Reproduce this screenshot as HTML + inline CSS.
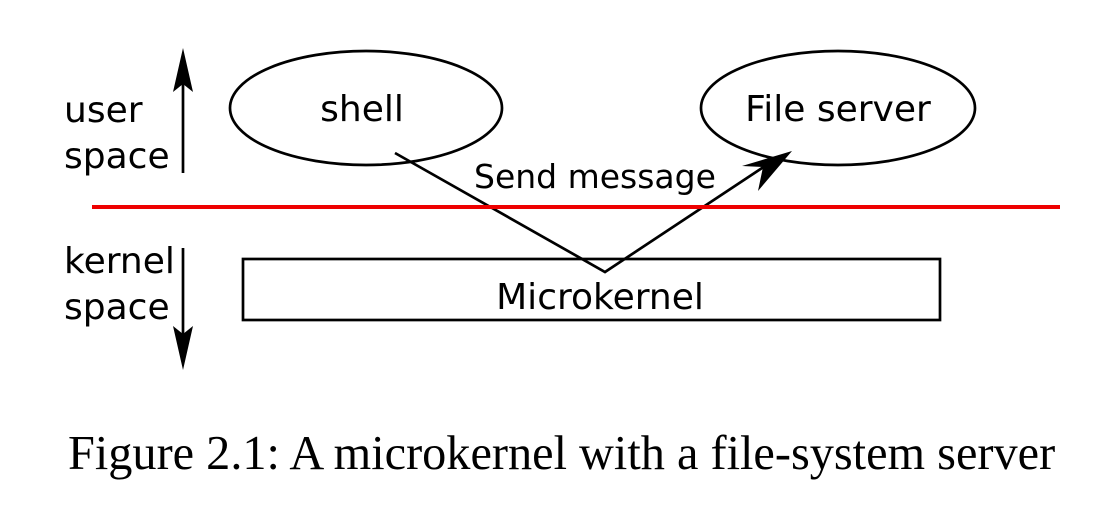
<!DOCTYPE html>
<html><head><meta charset="utf-8"><style>
html,body{margin:0;padding:0;background:#fff;}
svg{display:block}
</style></head><body>
<svg width="1108" height="520" viewBox="0 0 1108 520" xmlns="http://www.w3.org/2000/svg">
<rect width="1108" height="520" fill="#fff"/>
<g stroke="#000" stroke-width="2.7" fill="none">
<ellipse cx="366" cy="108" rx="136" ry="57"/>
<ellipse cx="838" cy="108" rx="137" ry="57"/>
<rect x="243" y="259" width="697" height="61"/>
<line x1="183" y1="75" x2="183" y2="173"/>
<line x1="183" y1="248" x2="183" y2="345"/>
<polyline points="395,153 605,272 765,166"/>
</g>
<polygon points="183,48 173,92 183,84 193,92" fill="#000"/>
<polygon points="183,370 173,326 183,334 193,326" fill="#000"/>
<polygon points="792,151 742,166 763,167 758,191" fill="#000"/>
<line x1="92" y1="207" x2="1060" y2="207" stroke="#e00" stroke-width="4"/>
<g font-family="DejaVu Sans, sans-serif" font-size="36" fill="#000">
<text x="64" y="122">user</text>
<text x="64" y="168">space</text>
<text x="64" y="273">kernel</text>
<text x="64" y="319">space</text>
<text x="362" y="121" text-anchor="middle">shell</text>
<text x="838" y="121" text-anchor="middle">File server</text>
<text x="474" y="188" font-size="33">Send message</text>
<text x="600" y="309" text-anchor="middle">Microkernel</text>
</g>
<text x="68" y="469" font-family="Liberation Serif, serif" font-size="48.3" fill="#000">Figure 2.1: A microkernel with a file-system server</text>
</svg>
</body></html>
